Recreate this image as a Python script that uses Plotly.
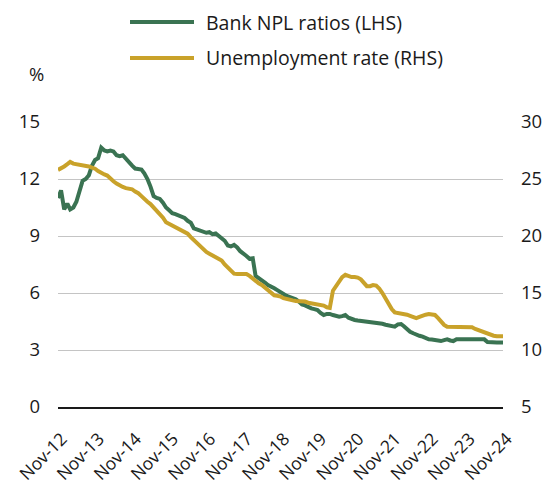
import pandas as pd
import plotly.graph_objects as go

# Monthly observations, Nov-2012 .. Nov-2024
start_month = "2012-11-01"
n_months = 145

npl_ratio = [
    11.0, 11.4, 10.4, 10.7, 10.4, 10.5, 10.8, 11.3, 11.9, 12.0,
    12.2, 12.7, 13.0, 13.1, 13.65, 13.5, 13.45, 13.5, 13.45, 13.25,
    13.2, 13.25, 13.05, 12.85, 12.7, 12.55, 12.55, 12.5, 12.3, 12.0,
    11.6, 11.1, 11.0, 10.95, 10.75, 10.5, 10.35, 10.2, 10.15, 10.1,
    10.0, 9.95, 9.8, 9.7, 9.4, 9.35, 9.25, 9.2, 9.17, 9.2,
    9.1, 9.14, 9.0, 8.9, 8.75, 8.5, 8.45, 8.53, 8.4, 8.2,
    8.1, 7.95, 7.8, 7.83, 6.9, 6.8, 6.68, 6.55, 6.42, 6.35,
    6.25, 6.15, 6.07, 5.95, 5.85, 5.8, 5.72, 5.67, 5.55, 5.4,
    5.35, 5.25, 5.19, 5.15, 5.1, 4.95, 4.84, 4.9, 4.9, 4.84,
    4.8, 4.75, 4.78, 4.84, 4.7, 4.62, 4.58, 4.55, 4.53, 4.52,
    4.5, 4.49, 4.48, 4.45, 4.4, 4.38, 4.33, 4.3, 4.25, 4.23,
    4.35, 4.37, 4.25, 4.1, 3.96, 3.88, 3.8, 3.75, 3.7, 3.63,
    3.56, 3.55, 3.53, 3.5, 3.47, 3.52, 3.56, 3.5, 3.47, 3.56,
    3.56, 3.56, 3.56, 3.56, 3.56, 3.56, 3.56, 3.56, 3.56, 3.42,
    3.4, 3.4, 3.4, 3.4, 3.4,
]

unemployment = [
    25.8, 26.0, 26.1, 26.3, 26.5, 26.35, 26.3, 26.25, 26.2, 26.2,
    26.1, 26.0, 25.9, 25.7, 25.5, 25.4, 25.3, 25.0, 24.8, 24.6,
    24.4, 24.3, 24.2, 24.15, 24.1, 23.9, 23.75, 23.5, 23.2, 23.0,
    22.8, 22.5, 22.3, 22.0, 21.6, 21.2, 21.05, 20.9, 20.7, 20.55,
    20.4, 20.3, 20.2, 19.9, 19.65, 19.35, 19.1, 18.8, 18.6, 18.45,
    18.3, 18.2, 18.0, 17.85, 17.5, 17.2, 16.95, 16.7, 16.67, 16.67,
    16.67, 16.67, 16.5, 16.25, 16.0, 15.85, 15.7, 15.45, 15.25, 15.0,
    14.8, 14.75, 14.7, 14.55, 14.45, 14.4, 14.35, 14.3, 14.3, 14.3,
    14.25, 14.15, 14.1, 14.05, 14.0, 13.95, 13.9, 13.75, 13.7, 15.2,
    15.55, 16.0, 16.4, 16.6, 16.5, 16.4, 16.4, 16.35, 16.2, 15.9,
    15.6, 15.6, 15.7, 15.65, 15.4, 15.0, 14.5, 14.0, 13.6, 13.3,
    13.25, 13.2, 13.2, 13.1, 13.0, 12.9, 12.8, 12.9, 13.05, 13.1,
    13.15, 13.15, 13.07, 12.8, 12.5, 12.2, 12.04, 12.04, 12.04, 12.04,
    12.04, 12.04, 12.04, 12.04, 12.0, 11.85, 11.75, 11.6, 11.5, 11.4,
    11.3, 11.25, 11.2, 11.2, 11.2,
]

series_names = ["Bank NPL ratios (LHS)", "Unemployment rate (RHS)"]
left_ticks = [0, 3, 6, 9, 12, 15]
right_ticks = [5, 10, 15, 20, 25, 30]
tick_dates = [f"{y}-11-01" for y in range(2012, 2025)]
tick_labels = [f"Nov-{y % 100:02d}" for y in range(2012, 2025)]

GREEN = "#3a7352"
GOLD = "#c9a22a"
FONT = "Open Sans"
TXT = "#1a1a1a"

W, H = 555, 486
ML, MR, MT, MB = 58, 52, 122, 79
PW, PH = W - ML - MR, H - MT - MB


def px_to_paper(xpx, ypx):
    return (xpx - ML) / PW, (H - MB - ypx) / PH


dates = pd.date_range(start_month, periods=n_months, freq="MS")

fig = go.Figure()
fig.add_trace(go.Scatter(x=dates, y=npl_ratio, mode="lines", name=series_names[0],
                         line=dict(color=GREEN, width=4), yaxis="y", showlegend=False))
fig.add_trace(go.Scatter(x=dates, y=unemployment, mode="lines", name=series_names[1],
                         line=dict(color=GOLD, width=4), yaxis="y2", showlegend=False))

fig.update_layout(
    width=W, height=H,
    margin=dict(l=ML, r=MR, t=MT, b=MB),
    paper_bgcolor="white", plot_bgcolor="white",
    font=dict(family=FONT, size=18, color=TXT),
    xaxis=dict(
        range=[tick_dates[0], tick_dates[-1]],
        tickvals=tick_dates, ticktext=tick_labels, tickangle=-45,
        showgrid=False, showline=True, linecolor=TXT, linewidth=1.5,
        ticks="", tickfont=dict(size=17.5), zeroline=False,
        ticklabelstandoff=13, ticklabelshift=4, automargin=False,
    ),
    yaxis=dict(
        range=[0, 15], tickvals=left_ticks, showgrid=True, gridcolor="#c4c4c4",
        gridwidth=1, zeroline=False, showline=False, ticks="",
        ticklabelstandoff=17, tickfont=dict(size=18.5), automargin=False,
    ),
    yaxis2=dict(
        range=[5, 30], tickvals=right_ticks, overlaying="y", side="right",
        showgrid=False, zeroline=False, showline=False, ticks="",
        ticklabelstandoff=17, tickfont=dict(size=18.5), automargin=False,
    ),
)

# Custom legend (long line samples as in the reference)
legend_rows = [(series_names[0], GREEN, 22), (series_names[1], GOLD, 58)]
for name, color, ypx in legend_rows:
    x0, yp = px_to_paper(130, ypx)
    x1, _ = px_to_paper(194, ypx)
    xt, _ = px_to_paper(204, ypx)
    fig.add_shape(type="line", xref="paper", yref="paper",
                  x0=x0, x1=x1, y0=yp, y1=yp,
                  line=dict(color=color, width=4), layer="above")
    fig.add_annotation(text=name, xref="paper", yref="paper",
                       x=xt, y=yp, xanchor="left", yanchor="middle", showarrow=False,
                       font=dict(family=FONT, size=19.5, color=TXT))

xp, yp = px_to_paper(36, 74)
fig.add_annotation(text="%", xref="paper", yref="paper",
                   x=xp, y=yp, xanchor="center", yanchor="middle", showarrow=False,
                   font=dict(family=FONT, size=18.5, color=TXT))

fig.write_html("out.html")
